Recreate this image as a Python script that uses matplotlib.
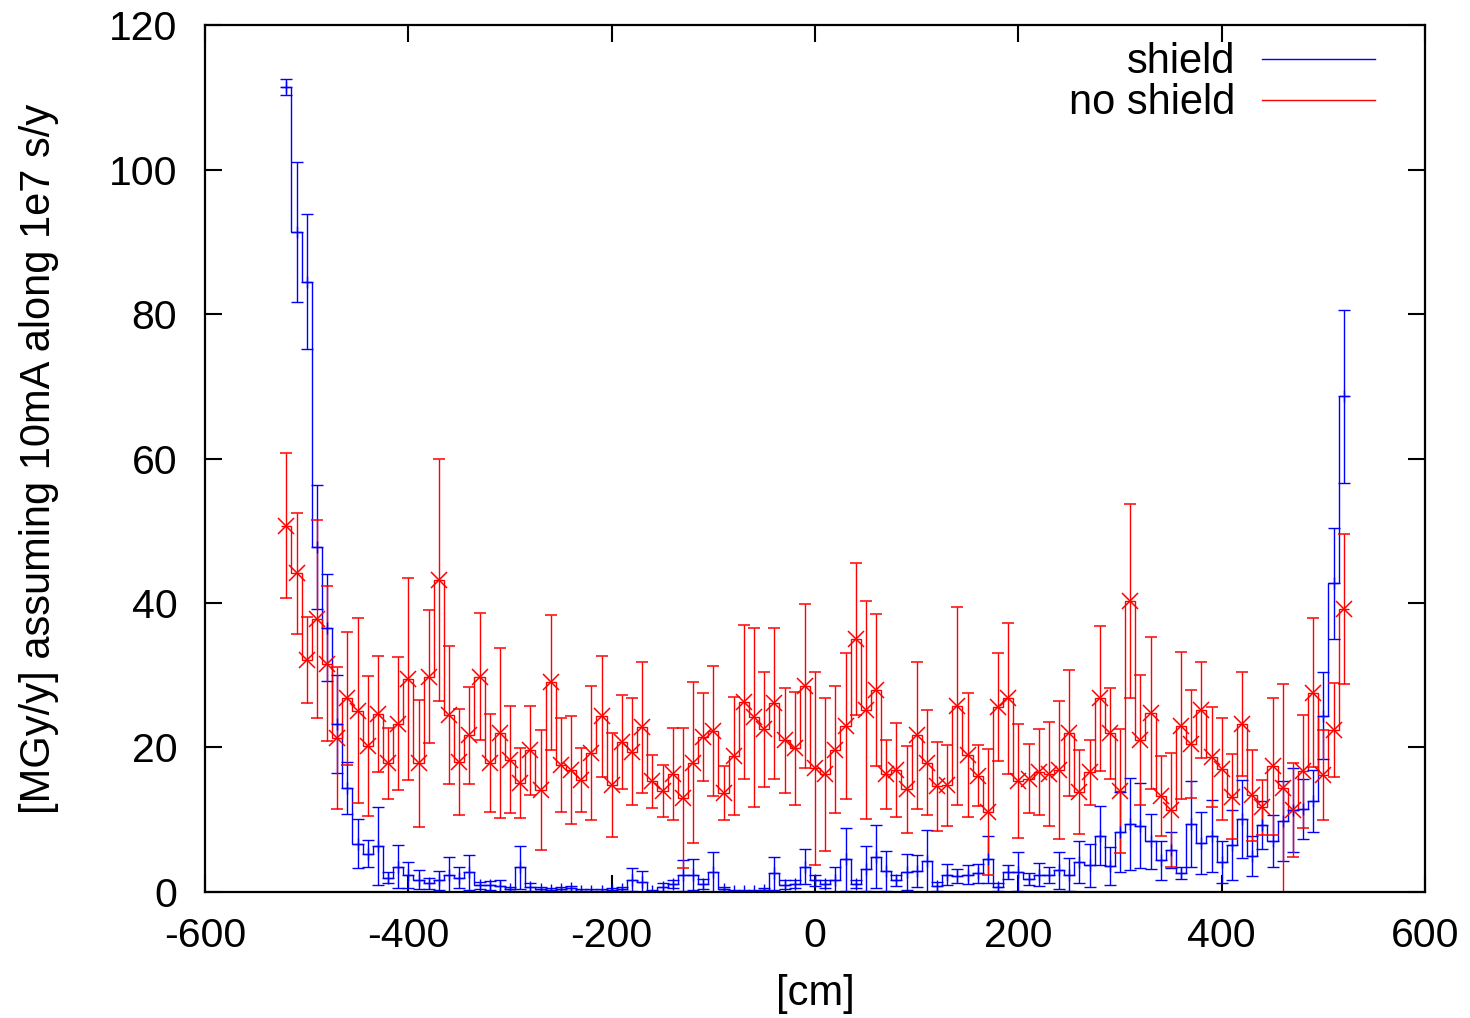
import numpy as np
import matplotlib
matplotlib.use("Agg")
import matplotlib.pyplot as plt
from matplotlib.lines import Line2D

plt.rcParams['font.family'] = ['Liberation Sans', 'DejaVu Sans']
plt.rcParams['axes.unicode_minus'] = False

# bin centres [cm], 10 cm bins
pos = np.arange(-520, 530, 10)

# no shield
red_val = [50.7, 44.1, 32.1, 37.8, 31.6, 21.3, 26.8, 25.1, 20.2, 24.6,
           17.8, 23.3, 29.5, 17.8, 29.8, 43.2, 24.5, 18.0, 21.7, 29.8,
           17.9, 22.0, 18.3, 15.1, 19.6, 14.1, 29.0, 17.6, 16.9, 15.5,
           19.2, 24.3, 14.8, 20.7, 19.4, 22.8, 15.3, 14.0, 16.3, 13.0,
           17.9, 21.4, 22.3, 13.7, 18.8, 26.3, 24.2, 22.5, 26.1, 21.0,
           19.9, 28.5, 17.1, 16.3, 19.7, 23.0, 35.0, 25.2, 28.0, 16.3,
           16.9, 14.2, 21.7, 17.9, 14.6, 14.8, 25.8, 19.0, 16.1, 11.1,
           25.6, 26.8, 15.4, 15.7, 16.6, 16.3, 16.9, 22.0, 13.8, 16.6,
           26.8, 22.0, 14.0, 40.3, 21.0, 24.8, 13.3, 11.3, 23.0, 20.5,
           25.2, 18.7, 17.0, 13.2, 23.2, 13.4, 11.7, 17.4, 14.4, 11.3,
           16.7, 27.6, 16.2, 22.4, 39.2]
red_err = [10.0, 8.4, 6.0, 13.7, 10.7, 9.8, 9.2, 12.8, 9.7, 8.0,
           4.9, 9.2, 14.0, 8.8, 9.2, 16.8, 9.6, 7.3, 6.7, 8.8,
           6.8, 11.8, 7.4, 4.8, 6.2, 8.3, 9.4, 6.5, 7.5, 4.4,
           9.3, 8.4, 7.2, 6.5, 7.4, 9.1, 3.7, 3.6, 6.4, 9.7,
           11.1, 6.1, 9.0, 3.8, 8.2, 10.7, 12.4, 8.0, 10.5, 7.3,
           7.8, 11.3, 13.3, 10.6, 8.8, 10.1, 10.5, 15.1, 10.5, 4.8,
           6.5, 6.0, 10.2, 7.3, 6.2, 5.6, 13.7, 8.6, 4.2, 8.7,
           7.5, 10.5, 7.9, 4.8, 6.0, 7.2, 9.6, 8.7, 5.8, 4.5,
           10.0, 6.3, 8.6, 13.4, 9.0, 10.5, 5.5, 7.9, 10.2, 7.5,
           6.6, 6.9, 7.1, 5.9, 7.2, 6.3, 3.8, 9.5, 14.4, 6.5,
           7.8, 10.3, 6.2, 6.5, 10.4]

# shield
blue_val = [111.4, 91.4, 84.5, 47.8, 36.6, 23.3, 14.4, 6.7, 5.3, 6.4,
            2.0, 3.5, 2.4, 1.7, 1.2, 1.6, 2.4, 2.0, 2.7, 0.9,
            0.9, 0.8, 0.4, 3.4, 0.7, 0.4, 0.3, 0.4, 0.5, 0.2,
            0.2, 0.2, 0.3, 0.4, 1.7, 1.4, 0.1, 0.7, 1.1, 2.3,
            2.4, 1.1, 2.8, 0.4, 0.1, 0.1, 0.1, 0.3, 2.6, 1.0,
            1.1, 3.5, 1.6, 1.1, 1.7, 4.5, 1.1, 3.2, 4.9, 2.9,
            1.6, 2.8, 2.9, 4.3, 0.8, 2.4, 2.2, 2.4, 2.6, 4.5,
            0.7, 2.8, 2.8, 1.8, 2.4, 2.3, 3.0, 2.4, 4.1, 3.7,
            7.8, 3.6, 8.3, 9.4, 9.2, 7.0, 4.4, 5.8, 2.6, 9.4,
            6.8, 7.7, 4.2, 6.5, 10.1, 5.0, 9.3, 7.0, 9.8, 11.4,
            11.5, 12.6, 24.4, 42.7, 68.6]
blue_err = [1.1, 9.7, 9.3, 8.6, 7.4, 6.8, 3.6, 3.4, 1.9, 5.4,
            0.8, 3.0, 1.8, 1.3, 0.8, 1.3, 2.4, 1.5, 2.4, 0.5,
            0.6, 0.8, 0.3, 3.0, 0.5, 0.3, 0.3, 0.3, 0.3, 0.2,
            0.2, 0.2, 0.2, 0.3, 1.6, 1.5, 0.2, 0.6, 0.5, 2.1,
            2.1, 0.7, 2.8, 0.3, 0.2, 0.2, 0.2, 0.3, 2.3, 0.6,
            0.6, 2.4, 0.8, 0.6, 1.7, 4.4, 0.6, 3.1, 4.4, 2.8,
            0.8, 2.5, 2.2, 4.3, 0.6, 1.5, 1.0, 1.3, 1.3, 3.2,
            0.5, 1.0, 2.7, 0.8, 1.6, 1.1, 2.6, 2.3, 2.9, 3.0,
            4.1, 2.6, 5.5, 6.4, 5.9, 3.8, 2.7, 2.5, 0.8, 6.0,
            4.3, 5.0, 2.9, 4.8, 5.4, 2.8, 3.3, 3.6, 5.5, 5.8,
            4.2, 4.3, 6.0, 7.7, 12.0]

edges = np.append(pos - 5, pos[-1] + 5)

fig = plt.figure(figsize=(14.7, 10.18), dpi=100)
ax = fig.add_axes([0.1395, 0.1238, 0.8299, 0.8516])

# shield (histeps + errorbars)
ax.stairs(blue_val, edges, baseline=None, color="#0000ff", linewidth=1.0)
ax.errorbar(pos, blue_val, yerr=blue_err, fmt="+", color="#0000ff",
            ms=8, mew=1.0, elinewidth=1.0, capsize=4.5, capthick=1.0)

# no shield
ax.stairs(red_val, edges, baseline=None, color="#ff0000", linewidth=1.0)
ax.errorbar(pos, red_val, yerr=red_err, fmt="x", color="#ff0000",
            ms=11, mew=1.1, elinewidth=1.0, capsize=4.5, capthick=1.0)

ax.set_xlim(-600, 600)
ax.set_ylim(0, 120)
ax.set_xticks([-600, -400, -200, 0, 200, 400, 600])
ax.set_yticks([0, 20, 40, 60, 80, 100, 120])
ax.tick_params(direction="in", length=12, width=1.5, labelsize=29.5,
               top=True, right=True)
ax.tick_params(axis="y", pad=20)
ax.tick_params(axis="x", pad=18)
for s in ax.spines.values():
    s.set_linewidth(1.6)

ax.set_xlabel("[cm]", fontsize=30, labelpad=14)
ax.set_ylabel("[MGy/y] assuming 10mA along 1e7 s/y", fontsize=30, labelpad=36)

handles = [Line2D([], [], color="#0000ff", lw=1.0),
           Line2D([], [], color="#ff0000", lw=1.0)]
ax.legend(handles, ["shield", "no shield"], loc="upper right",
          bbox_to_anchor=(0.959, 0.98), frameon=False, fontsize=30,
          markerfirst=False, handlelength=2.7, handletextpad=0.65,
          labelspacing=0.02, borderpad=0, borderaxespad=0)

fig.savefig("out.png", dpi=100)
